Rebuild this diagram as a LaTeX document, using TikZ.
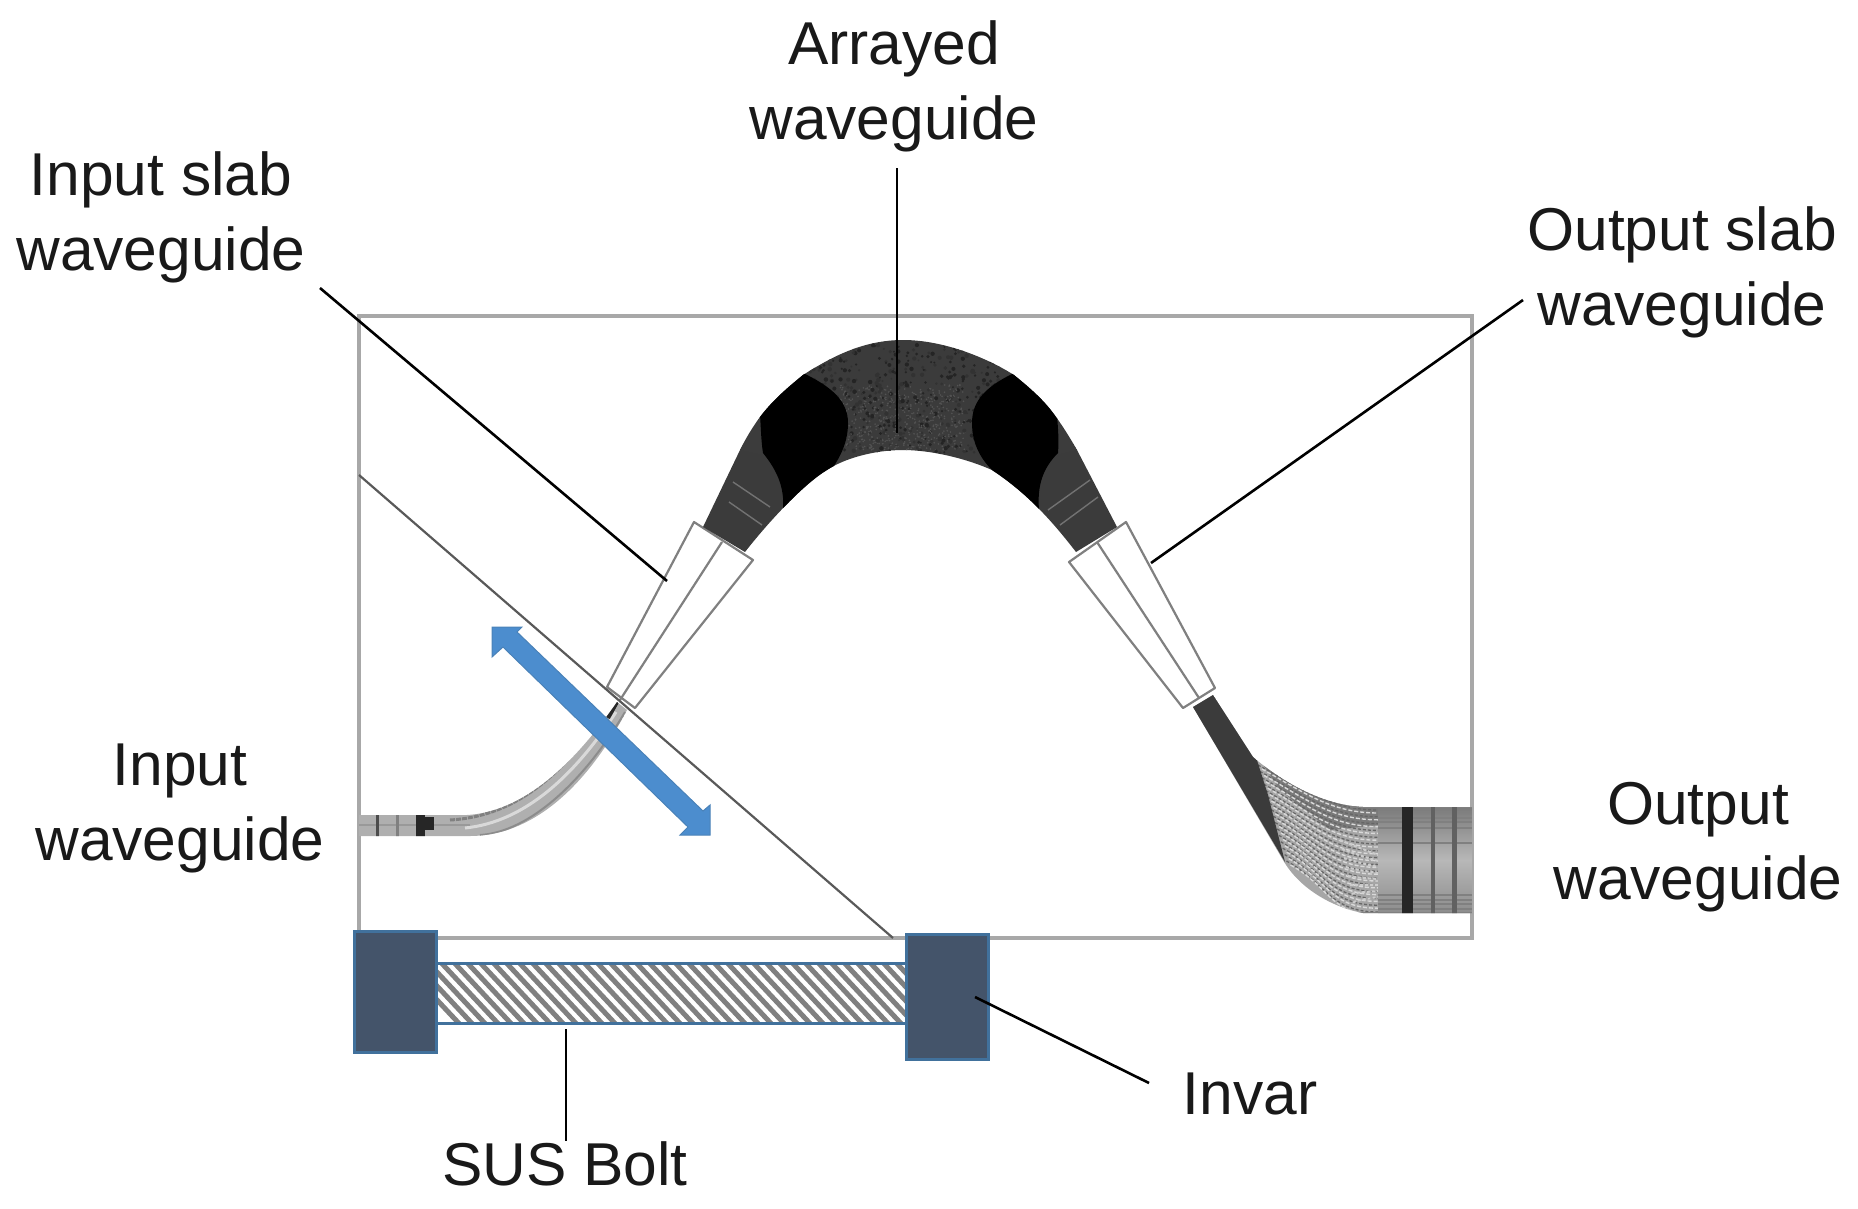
\documentclass[tikz,border=0pt]{standalone}
\usepackage{fontspec}
\setmainfont{Liberation Sans}
\usetikzlibrary{calc}
\definecolor{framegrey}{HTML}{A8A8A8}
\definecolor{archgrey}{HTML}{3B3B3B}
\definecolor{slabgrey}{HTML}{808080}
\definecolor{blockfill}{HTML}{44546A}
\definecolor{blockedge}{HTML}{41719C}
\definecolor{arrowblue}{HTML}{4C8DCE}
\definecolor{arrowedge}{HTML}{4A82B8}
\definecolor{fangrey}{HTML}{A6A6A6}
\tikzset{
  lab/.style={font=\fontsize{60.5}{75}\selectfont,align=center,text=black!90,inner sep=0pt},
  leader/.style={draw=black,line width=2.6pt},
  slabline/.style={draw=slabgrey,line width=2.2pt,line join=round,fill=white},
  block/.style={draw=blockedge,fill=blockfill,line width=3pt,inner sep=0pt,minimum width=82pt},
}
\begin{document}
\begin{tikzpicture}[x=1pt,y=-1pt]
\useasboundingbox (0,0) rectangle (1858,1208);
% chip frame
\draw[framegrey,line width=4pt] (359,316) rectangle (1472,938);

% input waveguide
\begin{scope}
\path[clip] (359,815) -- (467,815) .. controls (520,812) and (570,770) .. (617,702) -- (627,710)
   .. controls (585,790) and (530,836) .. (470,836) -- (359,836) -- cycle;
\fill[fangrey!90!white] (350,690) rectangle (640,850);
\draw[black!50,line width=3pt,dash pattern=on 5pt off 1pt] (450,820) .. controls (520,816) and (565,770) .. (606,712);
\draw[white!85!black,line width=3pt] (465,828) .. controls (525,822) and (575,775) .. (616,712);
\draw[black!45,line width=2pt] (480,835) .. controls (530,832) and (585,780) .. (625,712);
\draw[black!40,line width=1.5pt] (359,825) -- (470,825);
\foreach \tx/\tw/\tc in {377/3/black!70,397/3/black!50,420/9/black!85}
  \draw[\tc,line width=\tw pt] (\tx,810) -- (\tx,840);
\fill[black!85] (424,817) rectangle (434,830);
\draw[black!85,line width=4pt] (617,702) -- (608,718);
\end{scope}

% slab tapers
\draw[slabline] (694,522) -- (753,560) -- (635,708) -- (607,687) -- cycle;
\draw[slabline] (722,542) -- (620,700);
\draw[slabline] (1069,562) -- (1126,522) -- (1215,688) -- (1183,708) -- cycle;
\draw[slabline] (1097,542) -- (1199,698);

% arrayed waveguide arch
\path[fill=archgrey,save path=\archpath]
  (703,527) -- (740,450) .. controls (746,438) and (752,428) .. (760,417)
  .. controls (772,401) and (787,388) .. (803,375)
  .. controls (830,358) and (862,340) .. (903,340)
  .. controls (944,340) and (987,358) .. (1014,375)
  .. controls (1030,388) and (1045,401) .. (1056,417)
  .. controls (1064,428) and (1070,438) .. (1077,450)
  -- (1117,527) -- (1076,552)
  .. controls (1055,525) and (1030,495) .. (992,470)
  .. controls (965,458) and (930,450) .. (903,450)
  .. controls (875,450) and (845,458) .. (827,470)
  .. controls (805,483) and (770,520) .. (745,552) -- cycle;
\begin{scope}
\path[clip,use path=\archpath];
\fill[black!35!archgrey!90!white] (740,450) -- (760,417) -- (764,455) -- cycle;
\fill[black!35!archgrey!90!white] (1077,450) -- (1056,417) -- (1056,455) -- cycle;
\pgfmathsetseed{4711}
\foreach \n in {1,...,520}{
  \pgfmathsetmacro{\px}{800+rnd*205}
  \pgfmathsetmacro{\py}{345+rnd*108}
  \pgfmathsetmacro{\ps}{1+rnd*1.3}
  \pgfmathsetmacro{\pc}{rnd<0.5?15:38}
  \fill[black!\pc!archgrey] (\px,\py) circle[radius=\ps];
  \pgfmathsetmacro{\qx}{840+rnd*125}
  \pgfmathsetmacro{\qy}{385+rnd*65}
  \fill[white!12!archgrey] (\qx,\qy) circle[radius=0.9];
}
% black regions
\fill[black] (803,373) .. controls (830,386) and (848,400) .. (848,423)
  .. controls (848,445) and (838,460) .. (830,472)
  -- (783,510) .. controls (785,485) and (775,468) .. (763,453)
  .. controls (761,440) and (761,428) .. (760,415) -- (780,390) -- cycle;
\fill[black] (1014,373) .. controls (987,386) and (972,400) .. (972,423)
  .. controls (972,445) and (982,460) .. (992,470)
  -- (1039,510) .. controls (1037,485) and (1043,468) .. (1058,453)
  .. controls (1059,440) and (1058,428) .. (1057,415) -- (1040,390) -- cycle;
\draw[white!28!archgrey,line width=1.4pt] (733,482) -- (770,507) (729,502) -- (762,525)
  (1048,510) -- (1090,480) (1060,525) -- (1098,497);
\end{scope}

% output waveguide fan
\begin{scope}
\path[clip] (1213,695) -- (1253,757) .. controls (1280,780) and (1320,805) .. (1363,807)
  -- (1472,807) -- (1472,913) -- (1363,913) .. controls (1335,908) and (1300,890) .. (1283,860)
  -- (1193,707) -- cycle;
\fill[fangrey] (1190,690) rectangle (1475,920);
\fill[black!52] (1260,760) -- (1345,803) -- (1380,807) -- (1380,825) -- (1330,830) -- (1280,790) -- cycle;
\foreach \n in {0,...,15}{
  \pgfmathsetmacro{\sy}{765+\n*6.4}
  \pgfmathsetmacro{\sx}{1258+\n*1.9}
  \pgfmathsetmacro{\ey}{810+\n*6.8}
  \draw[black!60,line width=1.3pt,dash pattern=on 3pt off 2pt] (\sx,\sy) .. controls (\sx+40,\sy+22) and (1330,\ey) .. (1378,\ey);
  \draw[white!85!black,line width=1.4pt,dash pattern=on 4pt off 2pt] (\sx+4,\sy+4) .. controls (\sx+44,\sy+26) and (1330,\ey+3) .. (1378,\ey+3);
}
\foreach \n in {0,...,7}
  \draw[white!80!black,line width=2pt,dash pattern=on 3pt off 2pt]
    (1340+\n*2,840+\n*9) .. controls (1352,845+\n*8) and (1365,850+\n*7) .. (1378,855+\n*6);
\shade[top color=black!52,bottom color=black!28] (1378,807) rectangle (1472,860);
\shade[top color=black!28,bottom color=black!45] (1378,860) rectangle (1472,913);
\foreach \hy in {812,818,822,828,843,895,900,904,909}
  \draw[black!50,line width=1.2pt] (1378,\hy) -- (1472,\hy);
\draw[black!50,line width=1.5pt] (1340,913) -- (1472,913) (1350,807) -- (1472,807);
\draw[black!85,line width=11pt] (1407,805) -- (1407,915);
\draw[black!62,line width=4pt] (1433,805) -- (1433,915);
\draw[black!62,line width=5pt] (1454,805) -- (1454,915);
\path[fill=archgrey] (1213,695) -- (1256,757) -- (1268,795) -- (1285,862) -- (1193,707) -- cycle;
\end{scope}

% labels
\node[lab] (arr) at (894,86) {Arrayed\\waveguide};
\node[lab] (islab) at (161,217) {Input slab\\waveguide};
\node[lab] (oslab) at (1682,272) {Output slab\\waveguide};
\node[lab] (iwg) at (180,808) {Input\\waveguide};
\node[lab] (owg) at (1698,847) {Output\\waveguide};
\node[lab] (invar) at (1250,1094) {Invar};
\node[lab] (sus) at (565,1164) {SUS Bolt};

% diagonal line
\coordinate (da) at (359,475);
\coordinate (db) at (893,938);
\draw[black!65,line width=2.2pt] (da) -- (db);

% bolt
\node[draw=none,inner sep=0pt,minimum width=469pt,minimum height=60pt] (bolt) at (671.5,993.5) {};
\begin{scope}
\clip (bolt.south west) rectangle (bolt.north east);
\fill[white] (bolt.south west) rectangle (bolt.north east);
\foreach \k in {0,...,42}
  \draw[black!50,line width=5pt] ({395+\k*13},955) -- ({395+\k*13+72},1032);
\end{scope}
\draw[blockedge,line width=2.6pt] (bolt.north west) -- (bolt.north east) (bolt.south west) -- (bolt.south east);

% invar blocks
\node[block,minimum height=121pt] (b1) at (395.5,991.5) {};
\node[block,minimum height=125pt] (b2) at (947.5,997) {};

% blue double arrow
\coordinate (tipa) at (492,627);
\coordinate (tipb) at (710,835);
\draw[arrowedge,fill=arrowblue,line width=1pt,line join=miter]
  (tipa) -- (522,627) -- (517,632) -- (703,811) -- (710,805) -- (tipb) -- (680,835) -- (688,827)
  -- (503,647) -- (492,657) -- cycle;

% leader lines
\coordinate (c1) at (897,433);
\coordinate (c2a) at (320,288);
\coordinate (c2b) at (667,581);
\coordinate (c3a) at (1523,300);
\coordinate (c3b) at (1151,563);
\coordinate (c4) at (975,997);
\coordinate (c4b) at (1149,1083);
\coordinate (c5a) at (566,1029);
\coordinate (c5b) at (566,1141);
\draw[leader] (897,168) -- (c1);
\draw[leader] (c2a) -- (c2b);
\draw[leader] (c3a) -- (c3b);
\draw[leader] (c4) -- (c4b);
\draw[leader] (c5a) -- (c5b);
\end{tikzpicture}
\end{document}
